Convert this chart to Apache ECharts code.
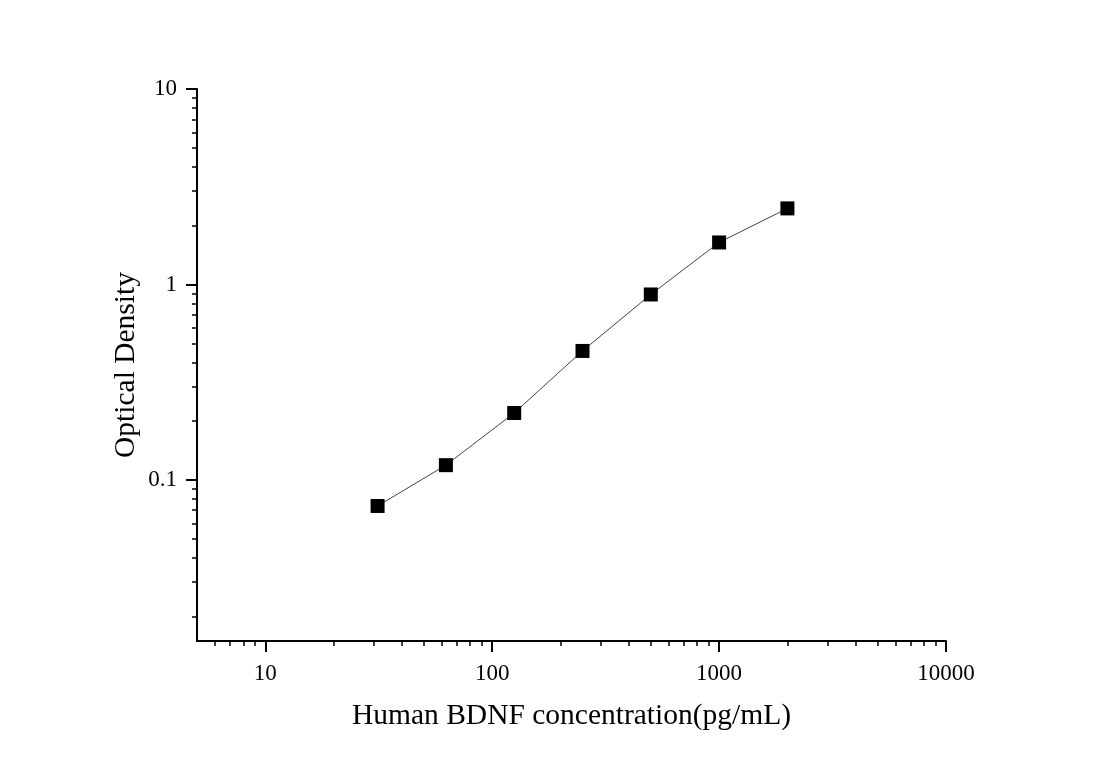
<!DOCTYPE html>
<html>
<head>
<meta charset='utf-8' />
<title></title>
<style>
html, body { margin: 0; padding: 0; background: #fff; }
#chart { width: 1100px; height: 768px; }
</style>
</head>
<body>
<div id="chart"></div>
<script src="https://cdn.jsdelivr.net/npm/echarts@6/dist/echarts.min.js"></script>
<script>
// standard curve data
var concentration = [31.25, 62.5, 125, 250, 500, 1000, 2000];
var density = [0.0736, 0.119, 0.220, 0.457, 0.889, 1.64, 2.45];

// tick values
var xMajorTicks = [10, 100, 1000, 10000];
var xMinorTicks = [6, 7, 8, 9, 20, 30, 40, 50, 60, 70, 80, 90,
  200, 300, 400, 500, 600, 700, 800, 900,
  2000, 3000, 4000, 5000, 6000, 7000, 8000, 9000];
var yMajorTicks = [0.1, 1, 10];
var yMinorTicks = [0.02, 0.03, 0.04, 0.05, 0.06, 0.07, 0.08, 0.09,
  0.2, 0.3, 0.4, 0.5, 0.6, 0.7, 0.8, 0.9,
  2, 3, 4, 5, 6, 7, 8, 9];

var font = 'Liberation Serif, Times New Roman, serif';
var chart = echarts.init(document.getElementById('chart'));

var points = [];
for (var i = 0; i < concentration.length; i++) {
  points.push([concentration[i], density[i]]);
}

var option = {
  animation: false,
  grid: { left: 197, right: 154, top: 89, bottom: 127 },
  xAxis: [
    {
      type: 'log', min: 5, max: 10000,
      name: 'Human BDNF concentration(pg/mL)',
      nameLocation: 'middle', nameGap: 60,
      nameTextStyle: { fontFamily: font, fontSize: 29.5, color: '#000' },
      axisLine: { lineStyle: { color: '#000', width: 2 } },
      axisTick: { customValues: xMajorTicks, length: 11, lineStyle: { color: '#000', width: 2 } },
      axisLabel: { customValues: xMajorTicks, margin: 21, fontFamily: font, fontSize: 23, color: '#000',
        formatter: function (v) { return String(v); } },
      splitLine: { show: false }
    },
    {
      type: 'log', min: 5, max: 10000, position: 'bottom',
      axisLine: { show: false },
      axisTick: { customValues: xMinorTicks, length: 5, lineStyle: { color: '#000', width: 1.5 } },
      axisLabel: { show: false },
      splitLine: { show: false }
    }
  ],
  yAxis: [
    {
      type: 'log', min: 0.015, max: 10,
      name: 'Optical Density',
      nameLocation: 'middle', nameGap: 56, nameMoveOverlap: false,
      nameTextStyle: { fontFamily: font, fontSize: 29.5, color: '#000' },
      axisLine: { lineStyle: { color: '#000', width: 2 } },
      axisTick: { customValues: yMajorTicks, length: 11, lineStyle: { color: '#000', width: 2 } },
      axisLabel: { customValues: yMajorTicks, margin: 20, fontFamily: font, fontSize: 23, color: '#000',
        formatter: function (v) { return String(v); } },
      splitLine: { show: false }
    },
    {
      type: 'log', min: 0.015, max: 10, position: 'left',
      axisLine: { show: false },
      axisTick: { customValues: yMinorTicks, length: 5, lineStyle: { color: '#000', width: 1.5 } },
      axisLabel: { show: false },
      splitLine: { show: false }
    }
  ],
  series: [
    {
      type: 'line',
      data: points,
      symbol: 'rect',
      symbolSize: 14,
      itemStyle: { color: '#000' },
      lineStyle: { color: '#444', width: 1 }
    }
  ]
};

chart.setOption(option);
</script>
</body>
</html>
